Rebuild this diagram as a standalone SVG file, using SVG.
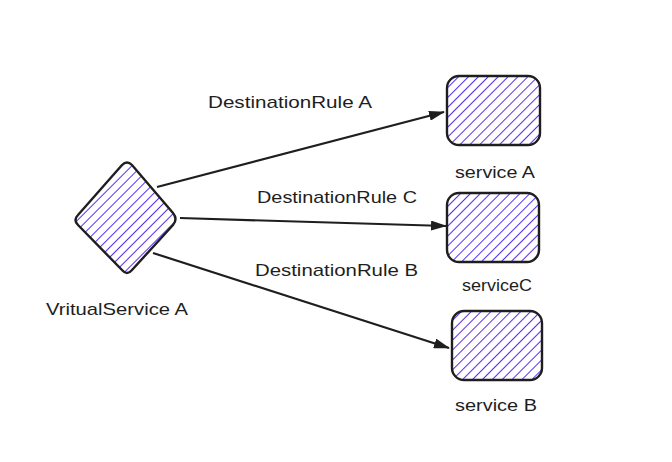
<svg xmlns="http://www.w3.org/2000/svg" width="672" height="462" viewBox="0 0 672 462">
<style>
.shape{fill:url(#hatch);stroke:#1e1e1e;stroke-width:2.4}
.lbl{font-family:"Liberation Sans",sans-serif;font-size:17px;fill:#1e1e1e}
.conn{stroke:#1e1e1e;stroke-width:2.2;fill:none;marker-end:url(#arrow)}
</style>
<defs>
<pattern id="hatch" patternUnits="userSpaceOnUse" width="7" height="7" patternTransform="rotate(45)">
<rect width="7" height="7" fill="#fff"/>
<line x1="0" y1="0" x2="0" y2="7" stroke="#4f22f2" stroke-width="1.9"/>
</pattern>
<marker id="arrow" markerWidth="16" markerHeight="10" refX="15" refY="5" orient="auto" markerUnits="userSpaceOnUse">
<path d="M0,0 L16,5 L0,10 Z" fill="#1e1e1e"/>
</marker>
</defs>
<rect width="672" height="462" fill="#fff"/>
<g id="connectors">
<line class="conn" x1="157" y1="187" x2="444" y2="112"/>
<line class="conn" x1="180" y1="218" x2="446" y2="226"/>
<line class="conn" x1="153" y1="253" x2="449" y2="348"/>
<text class="lbl" x="208" y="108" textLength="164" lengthAdjust="spacingAndGlyphs">DestinationRule A</text>
<text class="lbl" x="257" y="203" textLength="160" lengthAdjust="spacingAndGlyphs">DestinationRule C</text>
<text class="lbl" x="255" y="276" textLength="163" lengthAdjust="spacingAndGlyphs">DestinationRule B</text>
</g>
<g id="virtualservice">
<path class="shape" d="M122,165 Q127,160 132,165 L173,213 Q178,219 173,225 L132,270 Q127,276 122,270 L78,225 Q73,220 78,215 Z"/>
<text class="lbl" x="46" y="315" textLength="142" lengthAdjust="spacingAndGlyphs">VritualService A</text>
</g>
<g id="serviceA">
<rect class="shape" x="447" y="76" width="93" height="69" rx="12"/>
<text class="lbl" x="455" y="178" textLength="80" lengthAdjust="spacingAndGlyphs">service A</text>
</g>
<g id="serviceC">
<rect class="shape" x="447" y="193" width="92" height="69" rx="12"/>
<text class="lbl" x="462" y="291" textLength="70" lengthAdjust="spacingAndGlyphs">serviceC</text>
</g>
<g id="serviceB">
<rect class="shape" x="452" y="311" width="90" height="69" rx="12"/>
<text class="lbl" x="455" y="411" textLength="82" lengthAdjust="spacingAndGlyphs">service B</text>
</g>
</svg>
